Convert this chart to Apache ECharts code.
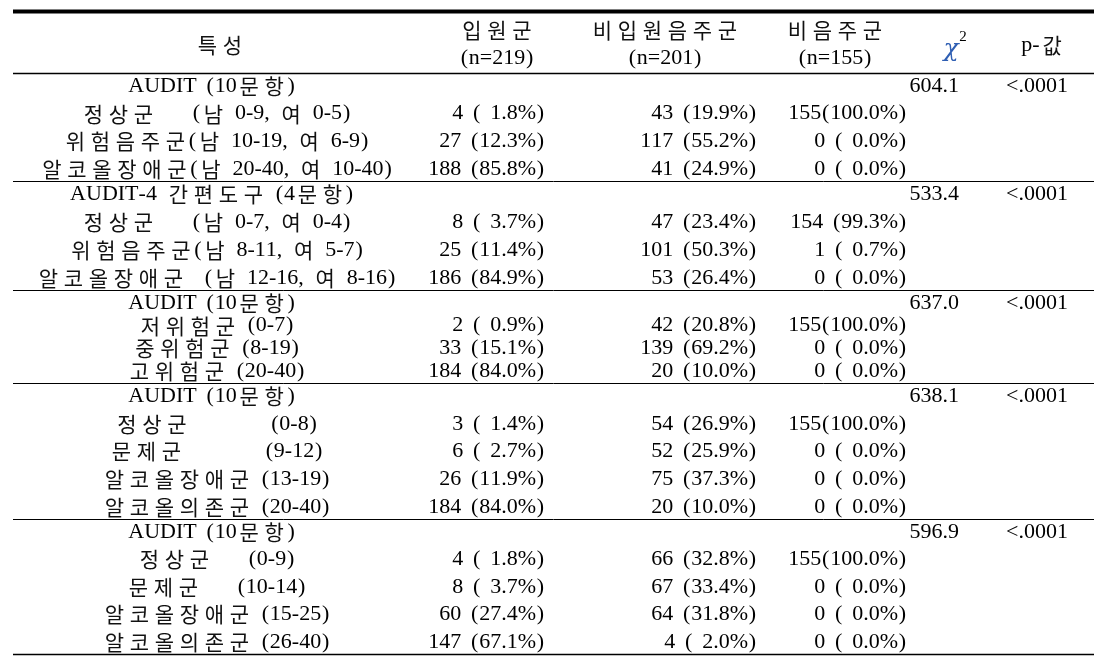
<!DOCTYPE html>
<html>
<head>
<meta charset="utf-8">
<script src="https://cdn.jsdelivr.net/npm/echarts@6/dist/echarts.min.js"></script>
<style>
  html, body { margin: 0; background: #fff; }
  #main { width: 1113px; height: 662px; }
</style>
</head>
<body>
<div id="main"></div>
<script>
// 표 데이터
var headers = ['특성', '입원군', '비입원음주군', '비음주군'];
var groupN = ['(n=219)', '(n=201)', '(n=155)'];
var sectionTitles = ['AUDIT (10문항)', 'AUDIT-4 간편도구 (4문항)', 'AUDIT (10문항)', 'AUDIT (10문항)', 'AUDIT (10문항)'];
var chi2 = [604.1, 533.4, 637.0, 638.1, 596.9];
var pValues = ['<.0001', '<.0001', '<.0001', '<.0001', '<.0001'];
var groupLabels = [
  ['정상군    (남 0-9, 여 0-5)', '위험음주군(남 10-19, 여 6-9)', '알코올장애군(남 20-40, 여 10-40)'],
  ['정상군    (남 0-7, 여 0-4)', '위험음주군(남 8-11, 여 5-7)', '알코올장애군  (남 12-16, 여 8-16)'],
  ['저위험군 (0-7)', '중위험군 (8-19)', '고위험군 (20-40)'],
  ['정상군         (0-8)', '문제군         (9-12)', '알코올장애군 (13-19)', '알코올의존군 (20-40)'],
  ['정상군    (0-9)', '문제군    (10-14)', '알코올장애군 (15-25)', '알코올의존군 (26-40)']
];
var admittedN = [[4, 27, 188], [8, 25, 186], [2, 33, 184], [3, 6, 26, 184], [4, 8, 60, 147]];
var admittedPct = [[1.8, 12.3, 85.8], [3.7, 11.4, 84.9], [0.9, 15.1, 84.0], [1.4, 2.7, 11.9, 84.0], [1.8, 3.7, 27.4, 67.1]];
var drinkerN = [[43, 117, 41], [47, 101, 53], [42, 139, 20], [54, 52, 75, 20], [66, 67, 64, 4]];
var drinkerPct = [[19.9, 55.2, 24.9], [23.4, 50.3, 26.4], [20.8, 69.2, 10.0], [26.9, 25.9, 37.3, 10.0], [32.8, 33.4, 31.8, 2.0]];
var nonDrinkerN = [[155, 0, 0], [154, 1, 0], [155, 0, 0], [155, 0, 0, 0], [155, 0, 0, 0]];
var nonDrinkerPct = [[100, 0, 0], [99.3, 0.7, 0], [100, 0, 0], [100, 0, 0, 0], [100, 0, 0, 0]];

// 레이아웃
var LATIN = "'Liberation Serif', serif";
var HANGUL = "'Noto Sans CJK KR', sans-serif";
var tableLeft = 13, tableRight = 1094;
var sectionLines = [73, 181, 290, 383, 519, 654];
var colLabel = 216, colTitle = 212;
var colAdm = 545, colDrk = 757, colNon = 907, colChi = 959, colP = 1037;

function cell(n, p) {
  if (p >= 100) return n + '(' + p.toFixed(1) + '%)';
  var ps = p < 10 ? ' ' + p.toFixed(1) : p.toFixed(1);
  return n + ' (' + ps + '%)';
}

// 바탕체처럼 넓은 글자 간격을 흉내내기 위해 rich 토큰으로 나눔
function tokenize(s) {
  var out = '';
  for (var i = 0; i < s.length; i++) {
    var c = s[i];
    if (/[\uac00-\ud7a3]/.test(c)) out += '{h|' + c + '}';
    else if (c === ' ') out += '{s| }';
    else if (c === '(' || c === ')') out += '{p|' + c + '}';
    else out += '{l|' + c + '}';
  }
  return out;
}

function txt(s, x, y, align, size) {
  size = size || 22;
  return {
    type: 'text', x: x, y: y, silent: true,
    style: {
      text: tokenize(s), fill: '#000', fontSize: size, fontFamily: LATIN,
      align: align || 'center', verticalAlign: 'middle',
      rich: {
        h: { fontSize: size - 1, fontFamily: HANGUL, width: size + 3, align: 'center', fill: '#111' },
        s: { fontSize: size, fontFamily: LATIN, width: Math.round(size * 0.42) },
        p: { fontSize: size, fontFamily: LATIN, width: Math.round(size * 0.42), align: 'center' },
        l: { fontSize: size, fontFamily: LATIN }
      }
    }
  };
}

function hline(y, w) {
  return { type: 'line', shape: { x1: tableLeft, y1: y, x2: tableRight, y2: y },
           style: { stroke: '#000', lineWidth: w || 1 }, silent: true };
}

var els = [];
els.push(hline(11.5, 4));

// 머리글
els.push(txt(headers[0], 220, 45));
var headX = [497, 665, 835];
for (var h = 0; h < 3; h++) {
  els.push(txt(headers[h + 1], headX[h], 30));
  els.push(txt(groupN[h], headX[h], 58));
}
els.push({ type: 'text', x: 951, y: 49, silent: true,
  style: { text: 'χ', fill: '#2f5fb3', fontSize: 25, fontStyle: 'italic', fontFamily: "'DejaVu Serif', serif",
           align: 'center', verticalAlign: 'middle' } });
els.push({ type: 'text', x: 963, y: 37, silent: true,
  style: { text: '2', fill: '#000', fontSize: 15, fontFamily: LATIN, align: 'center', verticalAlign: 'middle' } });
els.push(txt('p-값', 1043, 45));

// 본문
for (var s = 0; s < sectionTitles.length; s++) {
  var secTop = sectionLines[s], secBottom = sectionLines[s + 1];
  els.push(hline(secTop + 0.5, s === 0 ? 1.5 : 1));
  var nRows = groupLabels[s].length;
  var y0 = secTop + 13, y1 = secBottom - 12;
  var step = (y1 - y0) / nRows;
  els.push(txt(sectionTitles[s], colTitle, y0));
  els.push(txt(chi2[s].toFixed(1), colChi, y0, 'right'));
  els.push(txt(pValues[s], colP, y0));
  for (var r = 0; r < nRows; r++) {
    var ry = y0 + step * (r + 1);
    els.push(txt(groupLabels[s][r], colLabel, ry));
    els.push(txt(cell(admittedN[s][r], admittedPct[s][r]), colAdm, ry, 'right'));
    els.push(txt(cell(drinkerN[s][r], drinkerPct[s][r]), colDrk, ry, 'right'));
    els.push(txt(cell(nonDrinkerN[s][r], nonDrinkerPct[s][r]), colNon, ry, 'right'));
  }
}
els.push(hline(sectionLines[sectionLines.length - 1] + 0.5, 1.5));

var chart = echarts.init(document.getElementById('main'));
chart.setOption({
  backgroundColor: '#fff',
  animation: false,
  graphic: { elements: els }
});
</script>
</body>
</html>
